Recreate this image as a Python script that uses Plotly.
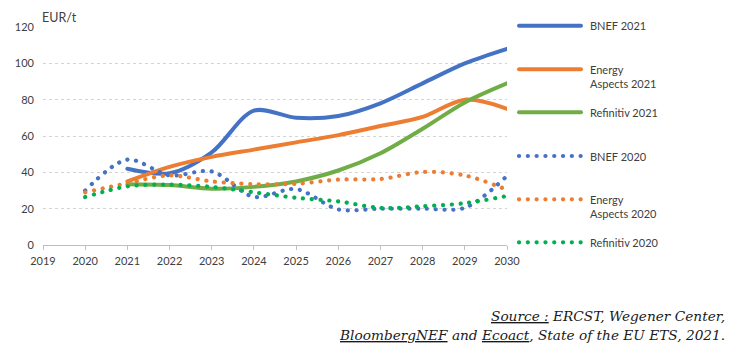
import plotly.graph_objects as go

# ---- data ----
years_2021 = [2021, 2022, 2023, 2024, 2025, 2026, 2027, 2028, 2029, 2030]
years_2020 = [2020, 2021, 2022, 2023, 2024, 2025, 2026, 2027, 2028, 2029, 2030]

bnef_2021 = [42, 39.5, 51, 74, 70, 71, 78, 89, 100, 108]
energy_aspects_2021 = [35, 43, 48.5, 52.5, 56.5, 60.5, 65.5, 70.5, 80, 75]
refinitiv_2021 = [33.5, 33, 31, 32, 35, 41, 50.5, 64, 78.5, 89]

bnef_2020 = [30, 47, 38.3, 40.5, 26.5, 30.8, 19.6, 20, 20, 20.5, 38]
energy_aspects_2020 = [29, 34, 38.3, 35, 33.5, 33.7, 36, 36.3, 40.2, 38.3, 30.4]
refinitiv_2020 = [26.4, 32.3, 33.2, 32, 29, 26, 24, 20.4, 21.3, 23, 27]

series_names = ["BNEF 2021", "Energy<br>Aspects 2021", "Refinitiv 2021",
                "BNEF 2020", "Energy<br>Aspects 2020", "Refinitiv 2020"]
x_ticks = list(range(2019, 2031))
y_ticks = [0, 20, 40, 60, 80, 100, 120]

# ---- styles ----
BLUE = "#4472C4"
ORANGE = "#ED7D31"
GREEN = "#70AD47"
GREEN_DOT = "#00B050"
DOT_DASH = "0.1px,8.7px"
FONT = "Lato"
TXT = "#404040"

series = [
    (years_2021, bnef_2021, BLUE, "solid"),
    (years_2021, energy_aspects_2021, ORANGE, "solid"),
    (years_2021, refinitiv_2021, GREEN, "solid"),
    (years_2020, bnef_2020, BLUE, DOT_DASH),
    (years_2020, energy_aspects_2020, ORANGE, DOT_DASH),
    (years_2020, refinitiv_2020, GREEN_DOT, DOT_DASH),
]

fig = go.Figure()
for (xs, ys, col, dash), name in zip(series, series_names):
    fig.add_trace(go.Scatter(
        x=xs, y=ys, mode="lines", name=name.replace("<br>", " "),
        line=dict(color=col, width=4 if dash == "solid" else 4.2, dash=dash,
                  shape="spline", smoothing=0.9),
        showlegend=False, hoverinfo="skip",
    ))

L, R, T, B = 43, 230, 27, 107
W, H = 737, 352
pw, ph = W - L - R, H - T - B

def px_x(px):
    return (px - L) / pw

def px_y(py):
    return (H - B - py) / ph

shapes = []
annotations = []
legend_rows = [25.7, 69.3, 112.3, 156, 199.3, 242.3]
for (xs, ys, col, dash), name, ry in zip(series, series_names, legend_rows):
    shapes.append(dict(type="line", xref="paper", yref="paper",
                       x0=px_x(519), x1=px_x(581), y0=px_y(ry), y1=px_y(ry),
                       line=dict(color=col, width=4 if dash == "solid" else 4.2,
                                 dash=dash)))
    parts = name.split("<br>")
    for i, p in enumerate(parts):
        annotations.append(dict(xref="paper", yref="paper", x=px_x(588),
                                y=px_y(ry + i * 14.5), text=p, showarrow=False,
                                xanchor="left", yanchor="middle",
                                font=dict(family=FONT, size=11, color=TXT)))

annotations.append(dict(xref="paper", yref="paper", x=px_x(40), y=px_y(17),
                        text="EUR/t", showarrow=False, xanchor="left",
                        yanchor="middle", font=dict(family=FONT, size=12.5, color=TXT)))

U = '<span style="text-decoration:underline">{}</span>'
src1 = U.format("Source :") + " ERCST, Wegener Center,"
src2 = U.format("BloombergNEF") + " and " + U.format("Ecoact") + ", State of the EU ETS, 2021."
for txt, py in [(src1, 316), (src2, 335)]:
    annotations.append(dict(xref="paper", yref="paper", x=px_x(727), y=px_y(py),
                            text=txt, showarrow=False, xanchor="right",
                            yanchor="middle",
                            font=dict(family="DejaVu Serif", size=13.7,
                                      color="#1a1a1a", style="italic")))

fig.update_layout(
    width=W, height=H,
    margin=dict(l=L, r=R, t=T, b=B, pad=0),
    paper_bgcolor="white", plot_bgcolor="white",
    shapes=shapes, annotations=annotations,
    xaxis=dict(range=[2019, 2030], tickvals=x_ticks, ticktext=[str(v) for v in x_ticks],
               showgrid=False, zeroline=False, showline=True, linecolor="#BFBFBF",
               linewidth=1, ticks="outside", ticklen=4, tickcolor="#BFBFBF",
               tickfont=dict(family=FONT, size=11, color=TXT), ticklabelstandoff=2),
    yaxis=dict(range=[0, 120], tickvals=y_ticks, showgrid=True, gridcolor="#D4D4D4",
               griddash="dot", gridwidth=1, zeroline=False, showline=False,
               ticks="", tickfont=dict(family=FONT, size=11, color=TXT),
               ticklabelstandoff=8),
)

post = ("var s=document.createElement('style');"
        "s.textContent='.js-line, .shapelayer path{stroke-linecap:round;}';"
        "document.head.appendChild(s);")
fig.write_html("out.html", post_script=post)
